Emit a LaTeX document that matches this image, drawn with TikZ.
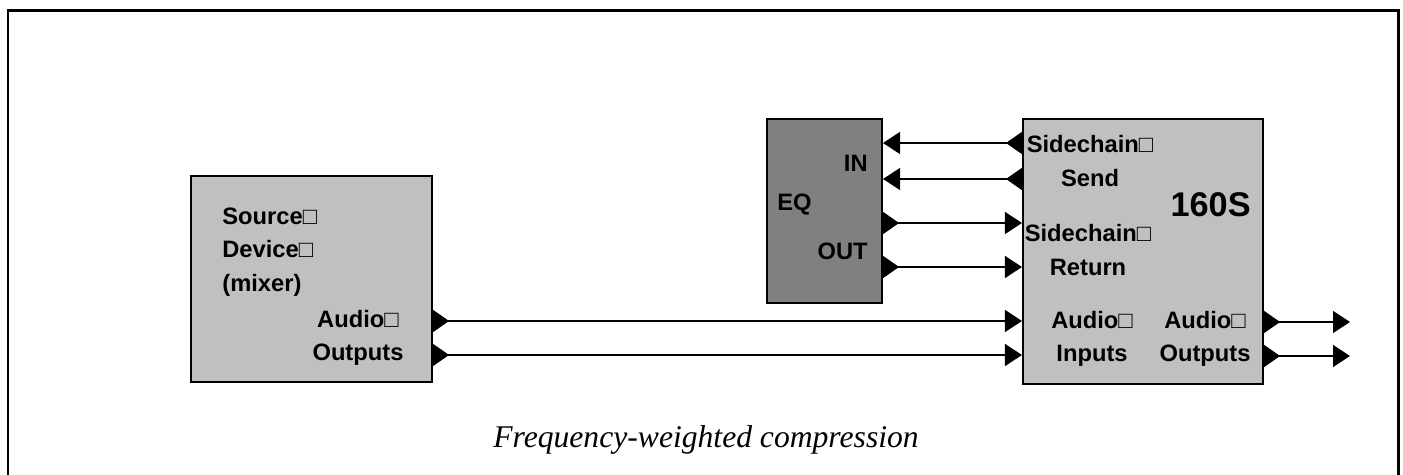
\documentclass[tikz,border=0pt]{standalone}
\usepackage{fontspec}
\setmainfont{Liberation Serif}
\setsansfont{Liberation Sans}
\usepackage{tikz}
\usetikzlibrary{arrows.meta,calc,positioning}
\definecolor{unitgrey}{RGB}{192,192,192}
\definecolor{eqgrey}{RGB}{128,128,128}
\tikzset{
  sig/.style={
    line width=0.8pt,
    draw=black,
    {Triangle[reversed,length=3.2mm,width=4.4mm]}-{Triangle[length=3.4mm,width=4.4mm]}
  },
  unit/.style={draw=black, line width=1.2pt, fill=unitgrey, inner sep=0pt},
  eqbox/.style={unit, fill=eqgrey},
  lbl/.style={
    font=\sffamily\bfseries\fontsize{13.5}{19}\selectfont,
    align=center,
    inner sep=0pt
  },
  caption/.style={font=\itshape\fontsize{18}{22}\selectfont}
}
\begin{document}
\begin{tikzpicture}[x=0.02cm,y=-0.02cm]
  \useasboundingbox (0,0) rectangle (1403,475);
  \draw[line width=1.7pt] (8,475) -- (8,11) -- (1398,11) -- (1398,475);
  % units
  \node[unit,minimum width=4.82cm,minimum height=4.12cm] (source) at (311.5,279) {};
  \node[eqbox,minimum width=2.3cm,minimum height=3.68cm] (eq) at (824.5,211) {};
  \node[unit,minimum width=4.8cm,minimum height=5.3cm] (comp) at (1143,251.5) {};
  % labels
  \node[lbl,align=left,anchor=west] (srcname) at (222,252) {Source□\\Device□\\(mixer)};
  \node[lbl] (srcout) at (358,338) {Audio□\\Outputs};
  \node[lbl,anchor=east] (eqin) at (868,163) {IN};
  \node[lbl,anchor=west] (eqname) at (777,205) {EQ};
  \node[lbl,anchor=east] (eqout) at (868,251) {OUT};
  \node[lbl] (scsend) at (1090,161) {Sidechain□\\Send};
  \node[lbl] (screturn) at (1088,250) {Sidechain□\\Return};
  \node[lbl,anchor=east,font=\sffamily\bfseries\fontsize{19.5}{23}\selectfont] (compname) at (1251,205) {160S};
  \node[lbl] (compin) at (1092,339) {Audio□\\Inputs};
  \node[lbl] (compout) at (1205,339) {Audio□\\Outputs};
  % signal lines
  \foreach \y in {321,355}
    \draw[sig] (source.east |- 0,\y) -- (comp.west |- 0,\y);
  \foreach \y in {143,179}
    \draw[sig] (comp.west |- 0,\y) -- (eq.east |- 0,\y);
  \foreach \y in {223,267}
    \draw[sig] (eq.east |- 0,\y) -- (comp.west |- 0,\y);
  \coordinate (out1) at (1350,322);
  \coordinate (out2) at (1350,356);
  \draw[sig] (comp.east |- out1) -- (out1);
  \draw[sig] (comp.east |- out2) -- (out2);
  \node[caption] (cap) at (706,440) {Frequency-weighted compression};
\end{tikzpicture}
\end{document}
